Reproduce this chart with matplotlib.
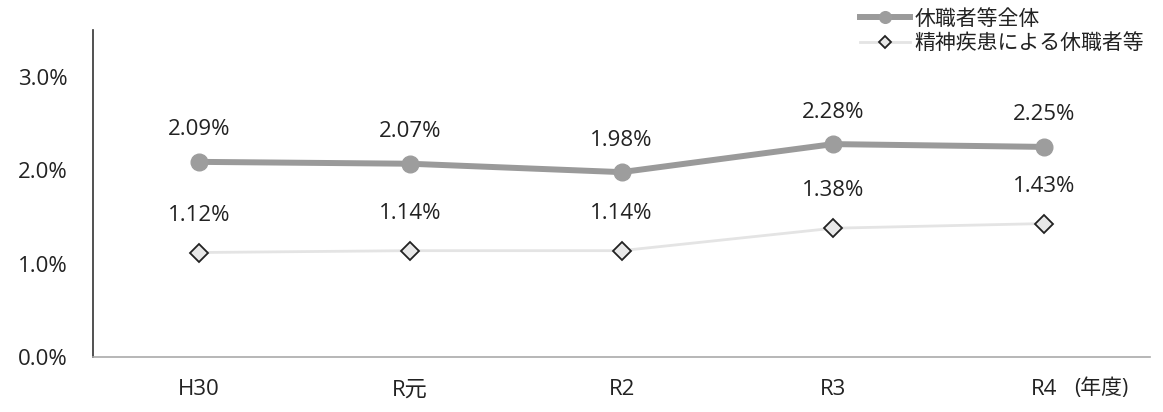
import matplotlib.pyplot as plt
from matplotlib.ticker import FuncFormatter
import numpy as np

plt.rcParams['font.family'] = ['Open Sans', 'Noto Sans CJK JP', 'DejaVu Sans']

years = ["H30", "R元", "R2", "R3", "R4"]
total_rate = [2.09, 2.07, 1.98, 2.28, 2.25]
mental_rate = [1.12, 1.14, 1.14, 1.38, 1.43]

fig = plt.figure(figsize=(11.63, 4.12), dpi=100)
ax = fig.add_axes([0.080, 0.133, 0.909, 0.794])

x = np.arange(len(years))
ax.plot(x, total_rate, color="#9a9a9a", lw=4.3, marker="o", ms=12,
        mfc="#9d9d9d", mec="#9d9d9d", label="休職者等全体", zorder=3)
ax.plot(x, mental_rate, color="#e4e4e4", lw=2, marker="D", ms=9,
        mfc="#e8e8e8", mec="#222222", mew=1.3, label="精神疾患による休職者等", zorder=3)

for xi, v in zip(x, total_rate):
    ax.annotate(f"{v:.2f}%", (xi, v), xytext=(0, 23), textcoords="offset points",
                ha="center", va="center", fontsize=16, color="#222222")
for xi, v in zip(x, mental_rate):
    ax.annotate(f"{v:.2f}%", (xi, v), xytext=(0, 27), textcoords="offset points",
                ha="center", va="center", fontsize=16, color="#222222")

ax.set_xlim(-0.5, len(years) - 0.5)
ax.set_ylim(0, 3.5)
ax.set_yticks([0, 1, 2, 3])
ax.yaxis.set_major_formatter(FuncFormatter(lambda v, p: f"{v:.1f}%"))
ax.set_xticks(x)
ax.set_xticklabels(years)
ax.tick_params(axis="both", length=0, labelsize=16, colors="#222222")
ax.tick_params(axis="y", pad=18)
ax.tick_params(axis="x", pad=16)

ax.spines["top"].set_visible(False)
ax.spines["right"].set_visible(False)
ax.spines["left"].set_color("#333333")
ax.spines["left"].set_linewidth(1.2)
ax.spines["bottom"].set_color("#aaaaaa")
ax.spines["bottom"].set_linewidth(1.2)

ax.text(len(years) - 1 + 0.14, -0.34, "(年度)", transform=ax.transData,
        ha="left", va="center", fontsize=15, color="#222222")

leg = ax.legend(loc="upper right", bbox_to_anchor=(1.008, 1.11), frameon=False,
                fontsize=15, handlelength=2.4, handletextpad=0.2, labelspacing=0.15,
                markerscale=0.7, borderpad=0.2)
for t in leg.get_texts():
    t.set_color("#222222")

fig.savefig("out.png", dpi=100, facecolor="white")
